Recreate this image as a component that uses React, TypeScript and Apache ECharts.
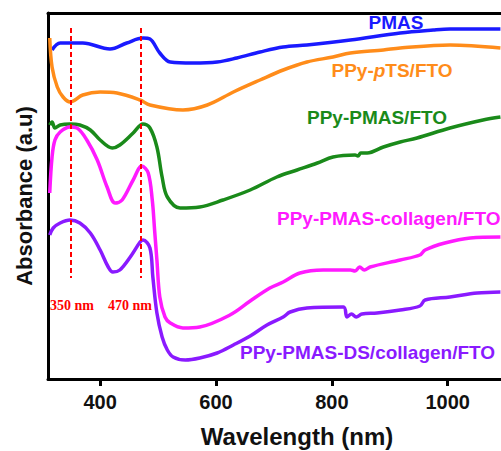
import React, { useEffect, useRef } from "react";
import * as echarts from "echarts";

// UV-vis absorbance spectra: [wavelength (nm), absorbance (a.u., offset)]
const pmas: number[][] = [
  [317, 3.29], [331, 3.36], [370, 3.36], [417, 3.3], [446, 3.36], [474, 3.41],
  [486, 3.4], [503, 3.26], [521, 3.17], [560, 3.16], [602, 3.17], [636, 3.21],
  [676, 3.27], [716, 3.32], [757, 3.34], [832, 3.39], [918, 3.46], [975, 3.49],
  [1004, 3.5], [1091, 3.5],
];

const ppyPts: number[][] = [
  [313, 3.41], [317, 3.12], [326, 2.92], [336, 2.82], [348, 2.77], [370, 2.84],
  [400, 2.87], [429, 2.86], [469, 2.79], [486, 2.74], [543, 2.69], [585, 2.74],
  [630, 2.87], [676, 2.99], [716, 3.09], [757, 3.17], [802, 3.22], [832, 3.26],
  [889, 3.29], [918, 3.31], [1004, 3.34], [1091, 3.31],
];

const ppyPmas: number[][] = [
  [313, 2.54], [317, 2.57], [322, 2.51], [331, 2.54], [348, 2.55], [365, 2.54],
  [383, 2.49], [400, 2.39], [421, 2.31], [434, 2.34], [457, 2.46], [474, 2.55],
  [486, 2.51], [498, 2.32], [507, 2.02], [516, 1.82], [538, 1.71], [572, 1.72],
  [612, 1.79], [659, 1.89], [705, 2.02], [740, 2.09], [775, 2.16], [802, 2.22],
  [840, 2.24], [845, 2.23], [850, 2.26], [861, 2.26], [889, 2.32], [918, 2.37],
  [947, 2.41], [1004, 2.51], [1061, 2.59], [1091, 2.62],
];

const ppyPmasCollagen: number[][] = [
  [313, 1.86], [317, 2.22], [322, 2.39], [331, 2.47], [348, 2.52], [360, 2.51],
  [377, 2.39], [395, 2.19], [412, 1.92], [426, 1.76], [438, 1.79], [457, 1.99],
  [472, 2.13], [483, 2.06], [490, 1.79], [494, 1.49], [498, 1.19], [503, 0.82],
  [512, 0.62], [521, 0.56], [543, 0.51], [572, 0.52], [624, 0.64], [659, 0.78],
  [693, 0.91], [716, 0.97], [745, 1.06], [785, 1.09], [832, 1.09],
  [840, 1.08], [848, 1.12], [856, 1.09], [866, 1.12],
  [918, 1.19], [952, 1.24], [961, 1.29], [995, 1.36], [1039, 1.41],
  [1091, 1.42],
];

const ppyPmasDsCollagen: number[][] = [
  [313, 1.44], [319, 1.51], [331, 1.56], [348, 1.59], [365, 1.56], [383, 1.46],
  [400, 1.29], [414, 1.12], [422, 1.07], [434, 1.09], [452, 1.22], [469, 1.37],
  [474, 1.39], [486, 1.31], [491, 1.02], [498, 0.66], [507, 0.42], [516, 0.29],
  [526, 0.22], [547, 0.19], [572, 0.21], [602, 0.26], [630, 0.34], [659, 0.43],
  [688, 0.54], [716, 0.62], [728, 0.67], [757, 0.71], [820, 0.72],
  [826, 0.62], [834, 0.65], [842, 0.62], [852, 0.65], [878, 0.66], [918, 0.69],
  [952, 0.73], [961, 0.79], [1004, 0.82], [1051, 0.86], [1091, 0.87],
];

// Band positions marked with dashed guides
const peakWavelengths = [350, 470];
const peakTop = 3.51;
const peakBottom = 1.01;

const xTicks = [400, 600, 800, 1000];

const sans = "'Liberation Sans', Arial, Helvetica, sans-serif";
const serif = "'Liberation Serif', 'Times New Roman', serif";

const COLORS = {
  pmas: "#1a1aff",
  pts: "#ff8c1a",
  pmasFto: "#1a8a1a",
  collagen: "#ff1aff",
  ds: "#8a1aff",
};

export default function App() {
  const ref = useRef<HTMLDivElement>(null);

  useEffect(() => {
    if (!ref.current) return;
    const chart = echarts.init(ref.current, undefined, { renderer: "svg" });

    const line = (name: string, data: number[][], color: string, extra: any = {}) => ({
      name,
      type: "line",
      data,
      showSymbol: false,
      smooth: 0.35,
      lineStyle: { color, width: 3.5 },
      itemStyle: { color },
      z: 3,
      ...extra,
    });

    const text = (x: number, y: number, str: string, color: string, align = "center") => ({
      type: "text",
      x,
      y,
      style: {
        text: str,
        fill: color,
        font: `bold 19px ${sans}`,
        textAlign: align,
        textVerticalAlign: "middle",
      },
    });

    chart.setOption({
      animation: false,
      grid: { left: 48, right: 0, top: 13, bottom: 72 },
      xAxis: [
        {
          type: "value",
          min: 310,
          max: 1092,
          position: "bottom",
          axisLine: { show: true, lineStyle: { color: "#000", width: 3 } },
          axisTick: {
            show: true,
            customValues: xTicks,
            length: 7,
            lineStyle: { color: "#000", width: 3 },
          },
          axisLabel: {
            customValues: xTicks,
            formatter: (v: number) => String(v),
            color: "#111",
            fontSize: 20,
            fontWeight: "bold",
            fontFamily: sans,
            margin: 13,
          },
          splitLine: { show: false },
        },
        {
          type: "value",
          min: 310,
          max: 1092,
          position: "top",
          axisLine: { show: true, lineStyle: { color: "#000", width: 3 } },
          axisTick: { show: false },
          axisLabel: { show: false },
          splitLine: { show: false },
        },
      ],
      yAxis: {
        type: "value",
        min: 0,
        max: 3.66,
        axisLine: { show: true, lineStyle: { color: "#000", width: 3 } },
        axisTick: { show: false },
        axisLabel: { show: false },
        splitLine: { show: false },
      },
      series: [
        line("PMAS", pmas, COLORS.pmas),
        line("PPy-pTS/FTO", ppyPts, COLORS.pts),
        line("PPy-PMAS/FTO", ppyPmas, COLORS.pmasFto),
        line("PPy-PMAS-collagen/FTO", ppyPmasCollagen, COLORS.collagen),
        line("PPy-PMAS-DS/collagen/FTO", ppyPmasDsCollagen, COLORS.ds, {
          markLine: {
            silent: true,
            symbol: "none",
            label: { show: false },
            lineStyle: { color: "#ff0000", type: [5, 3], width: 2 },
            data: peakWavelengths.map((w) => [
              { coord: [w, peakTop] },
              { coord: [w, peakBottom] },
            ]),
          },
        }),
      ],
      graphic: [
        text(396, 22, "PMAS", COLORS.pmas),
        {
          type: "text",
          x: 392,
          y: 70,
          style: {
            text: "{a|PPy-}{i|p}{a|TS/FTO}",
            textAlign: "center",
            textVerticalAlign: "middle",
            rich: {
              a: { fill: COLORS.pts, fontSize: 19, fontWeight: "bold", fontFamily: sans },
              i: {
                fill: COLORS.pts,
                fontSize: 19,
                fontWeight: "bold",
                fontStyle: "italic",
                fontFamily: sans,
              },
            },
          },
        },
        text(377, 117, "PPy-PMAS/FTO", COLORS.pmasFto),
        text(277, 218, "PPy-PMAS-collagen/FTO", COLORS.collagen, "left"),
        text(240, 352, "PPy-PMAS-DS/collagen/FTO", COLORS.ds, "left"),
        {
          type: "text",
          x: 72,
          y: 305,
          style: {
            text: "350 nm",
            fill: "#ff0000",
            font: `bold 14px ${serif}`,
            textAlign: "center",
            textVerticalAlign: "middle",
          },
        },
        {
          type: "text",
          x: 130,
          y: 305,
          style: {
            text: "470 nm",
            fill: "#ff0000",
            font: `bold 14px ${serif}`,
            textAlign: "center",
            textVerticalAlign: "middle",
          },
        },
        {
          type: "text",
          x: 297,
          y: 436,
          style: {
            text: "Wavelength (nm)",
            fill: "#111",
            font: `bold 24px ${sans}`,
            textAlign: "center",
            textVerticalAlign: "middle",
          },
        },
        {
          type: "text",
          x: 24,
          y: 196,
          rotation: Math.PI / 2,
          style: {
            text: "Absorbance (a.u)",
            fill: "#111",
            font: `bold 22px ${sans}`,
            textAlign: "center",
            textVerticalAlign: "middle",
          },
        },
      ],
    });

    return () => chart.dispose();
  }, []);

  return (
    <div
      ref={ref}
      style={{ position: "fixed", left: 0, top: 0, width: 501, height: 451, background: "#fff" }}
    />
  );
}
